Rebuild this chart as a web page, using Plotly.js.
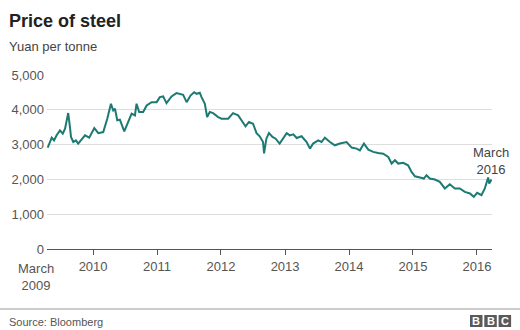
<!DOCTYPE html>
<html>
<head>
<meta charset="utf-8">
<script src="https://cdn.plot.ly/plotly-3.0.1.min.js"></script>
<style>
html,body{margin:0;padding:0;background:#fff;}
#chart{width:520px;height:330px;}
</style>
</head>
<body>
<div id="chart"></div>
<script>
var dates = ["2009-04-17","2009-05-10","2009-05-23","2009-06-07","2009-06-26","2009-07-12","2009-07-25","2009-08-03","2009-08-12","2009-08-22","2009-08-28","2009-09-10","2009-09-25","2009-10-08","2009-10-28","2009-11-16","2009-12-10",
"2010-01-08","2010-01-31","2010-02-28","2010-03-23","2010-04-13","2010-04-26","2010-05-06","2010-05-19","2010-06-03","2010-06-28","2010-07-20","2010-08-09","2010-08-28","2010-09-06","2010-09-21","2010-10-14","2010-11-03","2010-12-01","2010-12-30",
"2011-01-17","2011-02-05","2011-02-24","2011-03-25","2011-04-22","2011-05-30","2011-06-19","2011-07-11","2011-08-01","2011-08-15","2011-09-02","2011-09-12","2011-10-01","2011-10-14","2011-10-29","2011-11-17","2011-12-16",
"2012-01-04","2012-02-11","2012-03-10","2012-04-08","2012-04-27","2012-05-20","2012-06-09","2012-07-02","2012-07-22","2012-08-09","2012-08-28","2012-09-03","2012-09-16","2012-10-01","2012-10-21","2012-11-08","2012-12-01","2012-12-20",
"2013-01-10","2013-01-28","2013-02-17","2013-03-08","2013-04-05","2013-05-04","2013-05-23","2013-06-10","2013-07-09","2013-07-28","2013-08-16","2013-09-14","2013-10-12","2013-11-10","2013-12-18",
"2014-01-16","2014-02-13","2014-03-04","2014-03-27","2014-04-21","2014-05-19","2014-06-16","2014-07-15","2014-08-13","2014-09-01","2014-09-20","2014-10-09","2014-11-06","2014-12-04","2014-12-24",
"2015-01-12","2015-02-10","2015-03-04","2015-03-19","2015-04-07","2015-05-06","2015-06-03","2015-07-02","2015-07-30","2015-08-28","2015-09-25","2015-10-24","2015-11-22","2015-12-14",
"2016-01-02","2016-01-27","2016-02-15","2016-03-05","2016-03-11","2016-03-24"];
var prices = [2910,3200,3120,3270,3410,3315,3460,3650,3906,3500,3220,3075,3120,3030,3140,3265,3200,
3475,3330,3360,3745,4175,3980,4030,3700,3715,3380,3650,3890,3840,4175,3935,3935,4125,4220,4220,
4365,4385,4190,4385,4480,4430,4220,4410,4505,4460,4490,4365,4175,3790,3935,3905,3790,
3745,3745,3905,3840,3700,3525,3650,3600,3330,3240,3075,2750,3170,3330,3220,3170,3030,3170,
3330,3265,3295,3190,3240,3075,2885,3030,3120,3075,3200,3075,2980,3030,3075,
2915,2885,2835,3030,2855,2790,2760,2740,2645,2455,2550,2455,2475,2405,2215,
2090,2055,2025,2120,2025,1995,1930,1740,1860,1740,1740,1640,1595,1500,
1615,1545,1740,2055,1880,1995];
var yearTicks = ["2010-01-01","2011-01-01","2012-01-01","2013-01-01","2014-01-01","2015-01-01","2016-01-01"];
var yearLabels = ["2010","2011","2012","2013","2014","2015","2016"];
var yTicks = [0,1000,2000,3000,4000,5000];
var yLabels = ["0","1,000","2,000","3,000","4,000","5,000"];

var font = "Liberation Sans, Arial, Helvetica, sans-serif";
var trace = {
  x: dates, y: prices, type: "scatter", mode: "lines",
  line: {color: "#1c7a73", width: 2}, hoverinfo: "skip"
};
var layout = {
  width: 520, height: 330,
  margin: {l: 47, r: 28, t: 75, b: 81},
  paper_bgcolor: "#fff", plot_bgcolor: "#fff",
  showlegend: false,
  font: {family: font, color: "#555", size: 13},
  xaxis: {
    type: "date", range: ["2009-04-13","2016-03-27"],
    tickvals: yearTicks, ticktext: yearLabels,
    ticks: "outside", ticklen: 5, tickcolor: "#555", tickwidth: 1,
    showline: true, linecolor: "#555", linewidth: 1,
    showgrid: false, zeroline: false,
    tickfont: {size: 13, color: "#555", family: font},
    fixedrange: true
  },
  yaxis: {
    range: [0, 5000], tickvals: yTicks, ticktext: yLabels,
    showgrid: true, gridcolor: "#dedede", gridwidth: 1,
    zeroline: false, showline: false, ticks: "",
    ticklabelstandoff: 2,
    tickfont: {size: 13, color: "#555", family: font},
    fixedrange: true
  },
  annotations: [
    {xref: "paper", yref: "paper", x: 0, y: 1, xshift: -47, yshift: 75, xanchor: "left", yanchor: "top",
     text: "<b>Price of steel</b>", showarrow: false, font: {size: 18, color: "#222", family: font}},
    {xref: "paper", yref: "paper", x: 0, y: 1, xshift: -47, yshift: 75, xanchor: "left", yanchor: "top",
     text: "Yuan per tonne", showarrow: false, font: {size: 13, color: "#444", family: font}},
    {xref: "paper", yref: "paper", x: 0, y: 0, xshift: -11, yshift: -12, xanchor: "center", yanchor: "top",
     text: "March<br>2009", showarrow: false, font: {size: 13, color: "#555", family: font}},
    {xref: "paper", yref: "paper", x: 1, y: 0.5, xshift: 0, yshift: 0, xanchor: "center", yanchor: "bottom",
     text: "March<br>2016", showarrow: false, font: {size: 13, color: "#444", family: font}},
    {xref: "paper", yref: "paper", x: 0, y: 0, xshift: -40, yshift: -68, xanchor: "left", yanchor: "top",
     text: "Source: Bloomberg", showarrow: false, font: {size: 11, color: "#555", family: font}}
  ],
  shapes: [
    {type: "line", xref: "paper", yref: "paper", x0: 0, x1: 1, y0: 0, y1: 0, line: {color: "#999", width: 1}}
  ]
};
Plotly.newPlot("chart", [trace], layout, {staticPlot: true, displayModeBar: false}).then(function(gd){
  var W = 520 - 47 - 28, H = 330 - 75 - 81;
  function px(x){ return (x - 47) / W; }
  function py(y){ return (330 - 81 - y) / H; }
  var upd = {
    "annotations[0].x": px(7), "annotations[0].y": py(9), "annotations[0].xshift": 0, "annotations[0].yshift": 0,
    "annotations[1].x": px(7), "annotations[1].y": py(37), "annotations[1].xshift": 0, "annotations[1].yshift": 0,
    "annotations[2].x": px(36), "annotations[2].y": py(259), "annotations[2].xshift": 0, "annotations[2].yshift": 0,
    "annotations[3].x": px(491), "annotations[3].y": py(179), "annotations[3].xshift": 0, "annotations[3].yshift": 0,
    "annotations[4].x": px(7), "annotations[4].y": py(314), "annotations[4].xshift": 0, "annotations[4].yshift": 0,
    "shapes[0].x0": px(0), "shapes[0].x1": px(520), "shapes[0].y0": py(309), "shapes[0].y1": py(309)
  };
  var boxes = [];
  var letters = ["B","B","C"];
  for (var i = 0; i < 3; i++) {
    var bx = 470 + i * 14.3;
    boxes.push({type: "rect", xref: "paper", yref: "paper", x0: px(bx), x1: px(bx + 12.5), y0: py(327), y1: py(315),
      fillcolor: "#5a5a5a", line: {width: 0}});
  }
  Plotly.relayout(gd, upd).then(function(){
    var shapes = gd.layout.shapes.concat(boxes);
    var a = gd.layout.annotations.slice();
    for (var j = 0; j < 3; j++) {
      a.push({xref: "paper", yref: "paper", x: px(470 + j * 14.3 + 6.25), y: py(321), xanchor: "center", yanchor: "middle",
        text: "<b>" + letters[j] + "</b>", showarrow: false, font: {size: 11, color: "#fff", family: font}});
    }
    Plotly.relayout(gd, {shapes: shapes, annotations: a});
  });
});
</script>
</body>
</html>
